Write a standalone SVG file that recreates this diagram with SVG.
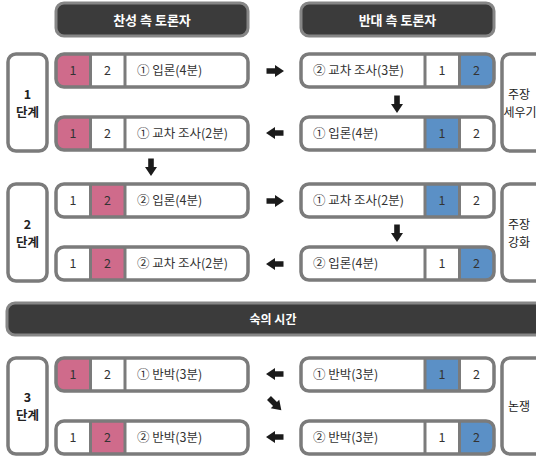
<svg xmlns="http://www.w3.org/2000/svg" width="536" height="456" viewBox="0 0 536 456">
  <style>
    text { font-family: "Noto Sans CJK KR", "Noto Sans", sans-serif; }
    .box { fill: #ffffff; }
    .frame { fill: none; stroke: #7b7b7b; stroke-width: 3.5; }
    .sep { stroke: #7b7b7b; stroke-width: 3; }
    .pro { fill: #cf6b8b; }
    .con { fill: #5b90c6; }
    .hd { fill: #3b3b3b; stroke: #868686; stroke-width: 3; }
    .t { font-size: 12.5px; fill: #333333; }
    .n { font-size: 12.5px; fill: #333333; text-anchor: middle; }
    .ht { font-size: 13px; font-weight: bold; fill: #ffffff; text-anchor: middle; }
    .lab { font-size: 12.5px; font-weight: bold; fill: #222222; text-anchor: middle; }
    .side { font-size: 12px; fill: #222222; stroke: none; text-anchor: middle; }
    .arr { fill: #1b1b1b; }
  </style>
  <defs>
    <clipPath id="bc">
      <rect x="0" y="0" width="193" height="33" rx="8"/>
    </clipPath>
    <path id="arrow" d="M-8.5,-2.8 H0 V-6 L9,0 L0,6 V2.8 H-8.5 Z"/>
  </defs>
  <rect width="536" height="456" fill="#ffffff"/>

  <!-- column headers -->
  <g id="head-pro">
    <rect class="hd" x="56" y="3" width="192" height="33" rx="8"/>
    <text class="ht" x="152" y="24.5">찬성 측 토론자</text>
  </g>
  <g id="head-con">
    <rect class="hd" x="301" y="3" width="193" height="33" rx="8"/>
    <text class="ht" x="397.5" y="24.5">반대 측 토론자</text>
  </g>

  <!-- stage labels (left) -->
  <g id="stage-1">
    <rect class="box" x="8" y="54" width="39" height="97" rx="8"/>
    <rect class="frame" x="8" y="54" width="39" height="97" rx="8"/>
    <text class="lab" x="27.5" y="99">1</text>
    <text class="lab" x="27.5" y="117">단계</text>
  </g>
  <g id="stage-2">
    <rect class="box" x="8" y="184" width="39" height="97" rx="8"/>
    <rect class="frame" x="8" y="184" width="39" height="97" rx="8"/>
    <text class="lab" x="27.5" y="229">2</text>
    <text class="lab" x="27.5" y="247">단계</text>
  </g>
  <g id="stage-3">
    <rect class="box" x="8" y="358" width="39" height="96" rx="8"/>
    <rect class="frame" x="8" y="358" width="39" height="96" rx="8"/>
    <text class="lab" x="27.5" y="402">3</text>
    <text class="lab" x="27.5" y="420">단계</text>
  </g>

  <!-- stage purposes (right, running past the edge) -->
  <g id="goal-1">
    <rect class="box" x="502" y="54" width="50" height="97" rx="8"/>
    <rect class="frame" x="502" y="54" width="50" height="97" rx="8"/>
    <text class="side" x="519" y="99">주장</text>
    <text class="side" x="520" y="117">세우기</text>
  </g>
  <g id="goal-2">
    <rect class="box" x="502" y="184" width="50" height="97" rx="8"/>
    <rect class="frame" x="502" y="184" width="50" height="97" rx="8"/>
    <text class="side" x="519" y="229">주장</text>
    <text class="side" x="519" y="247">강화</text>
  </g>
  <g id="goal-3">
    <rect class="box" x="502" y="358" width="50" height="96" rx="8"/>
    <rect class="frame" x="502" y="358" width="50" height="96" rx="8"/>
    <text class="side" x="519" y="411">논쟁</text>
  </g>

  <!-- deliberation bar -->
  <g id="deliberation">
    <rect class="hd" x="7" y="303" width="540" height="32" rx="8"/>
    <text class="ht" x="273" y="323.5" style="font-size:12px">숙의 시간</text>
  </g>

  <!-- affirmative speeches: [1][2][label] -->
  <g id="pro-1" transform="translate(56,54)">
    <rect class="box" width="192" height="33" rx="8"/>
    <g clip-path="url(#bc)"><rect class="pro" x="0" width="34.5" height="33"/></g>
    <line class="sep" x1="34.5" y1="0" x2="34.5" y2="33"/>
    <line class="sep" x1="69" y1="0" x2="69" y2="33"/>
    <rect class="frame" width="192" height="33" rx="8"/>
    <text class="n" x="17" y="21">1</text>
    <text class="n" x="51.5" y="21">2</text>
    <text class="t" x="81" y="21">① 입론(4분)</text>
  </g>
  <g id="pro-2" transform="translate(56,117)">
    <rect class="box" width="192" height="33" rx="8"/>
    <g clip-path="url(#bc)"><rect class="pro" x="0" width="34.5" height="33"/></g>
    <line class="sep" x1="34.5" y1="0" x2="34.5" y2="33"/>
    <line class="sep" x1="69" y1="0" x2="69" y2="33"/>
    <rect class="frame" width="192" height="33" rx="8"/>
    <text class="n" x="17" y="21">1</text>
    <text class="n" x="51.5" y="21">2</text>
    <text class="t" x="81" y="21">① 교차 조사(2분)</text>
  </g>
  <g id="pro-3" transform="translate(56,184)">
    <rect class="box" width="192" height="33" rx="8"/>
    <rect class="pro" x="34.5" width="34.5" height="33"/>
    <line class="sep" x1="34.5" y1="0" x2="34.5" y2="33"/>
    <line class="sep" x1="69" y1="0" x2="69" y2="33"/>
    <rect class="frame" width="192" height="33" rx="8"/>
    <text class="n" x="17" y="21">1</text>
    <text class="n" x="51.5" y="21">2</text>
    <text class="t" x="81" y="21">② 입론(4분)</text>
  </g>
  <g id="pro-4" transform="translate(56,247)">
    <rect class="box" width="192" height="33" rx="8"/>
    <rect class="pro" x="34.5" width="34.5" height="33"/>
    <line class="sep" x1="34.5" y1="0" x2="34.5" y2="33"/>
    <line class="sep" x1="69" y1="0" x2="69" y2="33"/>
    <rect class="frame" width="192" height="33" rx="8"/>
    <text class="n" x="17" y="21">1</text>
    <text class="n" x="51.5" y="21">2</text>
    <text class="t" x="81" y="21">② 교차 조사(2분)</text>
  </g>
  <g id="pro-5" transform="translate(56,358)">
    <rect class="box" width="192" height="33" rx="8"/>
    <g clip-path="url(#bc)"><rect class="pro" x="0" width="34.5" height="33"/></g>
    <line class="sep" x1="34.5" y1="0" x2="34.5" y2="33"/>
    <line class="sep" x1="69" y1="0" x2="69" y2="33"/>
    <rect class="frame" width="192" height="33" rx="8"/>
    <text class="n" x="17" y="21">1</text>
    <text class="n" x="51.5" y="21">2</text>
    <text class="t" x="81" y="21">① 반박(3분)</text>
  </g>
  <g id="pro-6" transform="translate(56,421)">
    <rect class="box" width="192" height="33" rx="8"/>
    <rect class="pro" x="34.5" width="34.5" height="33"/>
    <line class="sep" x1="34.5" y1="0" x2="34.5" y2="33"/>
    <line class="sep" x1="69" y1="0" x2="69" y2="33"/>
    <rect class="frame" width="192" height="33" rx="8"/>
    <text class="n" x="17" y="21">1</text>
    <text class="n" x="51.5" y="21">2</text>
    <text class="t" x="81" y="21">② 반박(3분)</text>
  </g>

  <!-- negative speeches: [label][1][2] -->
  <g id="con-1" transform="translate(301,54)">
    <rect class="box" width="193" height="33" rx="8"/>
    <g clip-path="url(#bc)"><rect class="con" x="158.5" width="35" height="33"/></g>
    <line class="sep" x1="124" y1="0" x2="124" y2="33"/>
    <line class="sep" x1="158.5" y1="0" x2="158.5" y2="33"/>
    <rect class="frame" width="193" height="33" rx="8"/>
    <text class="t" x="12" y="21">② 교차 조사(3분)</text>
    <text class="n" x="141" y="21">1</text>
    <text class="n" x="175.5" y="21">2</text>
  </g>
  <g id="con-2" transform="translate(301,117)">
    <rect class="box" width="193" height="33" rx="8"/>
    <rect class="con" x="124" width="34.5" height="33"/>
    <line class="sep" x1="124" y1="0" x2="124" y2="33"/>
    <line class="sep" x1="158.5" y1="0" x2="158.5" y2="33"/>
    <rect class="frame" width="193" height="33" rx="8"/>
    <text class="t" x="12" y="21">① 입론(4분)</text>
    <text class="n" x="141" y="21">1</text>
    <text class="n" x="175.5" y="21">2</text>
  </g>
  <g id="con-3" transform="translate(301,184)">
    <rect class="box" width="193" height="33" rx="8"/>
    <rect class="con" x="124" width="34.5" height="33"/>
    <line class="sep" x1="124" y1="0" x2="124" y2="33"/>
    <line class="sep" x1="158.5" y1="0" x2="158.5" y2="33"/>
    <rect class="frame" width="193" height="33" rx="8"/>
    <text class="t" x="12" y="21">① 교차 조사(2분)</text>
    <text class="n" x="141" y="21">1</text>
    <text class="n" x="175.5" y="21">2</text>
  </g>
  <g id="con-4" transform="translate(301,247)">
    <rect class="box" width="193" height="33" rx="8"/>
    <g clip-path="url(#bc)"><rect class="con" x="158.5" width="35" height="33"/></g>
    <line class="sep" x1="124" y1="0" x2="124" y2="33"/>
    <line class="sep" x1="158.5" y1="0" x2="158.5" y2="33"/>
    <rect class="frame" width="193" height="33" rx="8"/>
    <text class="t" x="12" y="21">② 입론(4분)</text>
    <text class="n" x="141" y="21">1</text>
    <text class="n" x="175.5" y="21">2</text>
  </g>
  <g id="con-5" transform="translate(301,358)">
    <rect class="box" width="193" height="33" rx="8"/>
    <rect class="con" x="124" width="34.5" height="33"/>
    <line class="sep" x1="124" y1="0" x2="124" y2="33"/>
    <line class="sep" x1="158.5" y1="0" x2="158.5" y2="33"/>
    <rect class="frame" width="193" height="33" rx="8"/>
    <text class="t" x="12" y="21">① 반박(3분)</text>
    <text class="n" x="141" y="21">1</text>
    <text class="n" x="175.5" y="21">2</text>
  </g>
  <g id="con-6" transform="translate(301,421)">
    <rect class="box" width="193" height="33" rx="8"/>
    <g clip-path="url(#bc)"><rect class="con" x="158.5" width="35" height="33"/></g>
    <line class="sep" x1="124" y1="0" x2="124" y2="33"/>
    <line class="sep" x1="158.5" y1="0" x2="158.5" y2="33"/>
    <rect class="frame" width="193" height="33" rx="8"/>
    <text class="t" x="12" y="21">② 반박(3분)</text>
    <text class="n" x="141" y="21">1</text>
    <text class="n" x="175.5" y="21">2</text>
  </g>

  <!-- speaking order -->
  <g id="connectors" class="arr">
    <use href="#arrow" transform="translate(275,71)"/>
    <use href="#arrow" transform="translate(397,104) rotate(90)"/>
    <use href="#arrow" transform="translate(275,133) rotate(180)"/>
    <use href="#arrow" transform="translate(151,167) rotate(90)"/>
    <use href="#arrow" transform="translate(275,201)"/>
    <use href="#arrow" transform="translate(397,233) rotate(90)"/>
    <use href="#arrow" transform="translate(275,264) rotate(180)"/>
    <use href="#arrow" transform="translate(275,374) rotate(180)"/>
    <use href="#arrow" transform="translate(275,404) rotate(45)"/>
    <use href="#arrow" transform="translate(275,437) rotate(180)"/>
  </g>
</svg>
